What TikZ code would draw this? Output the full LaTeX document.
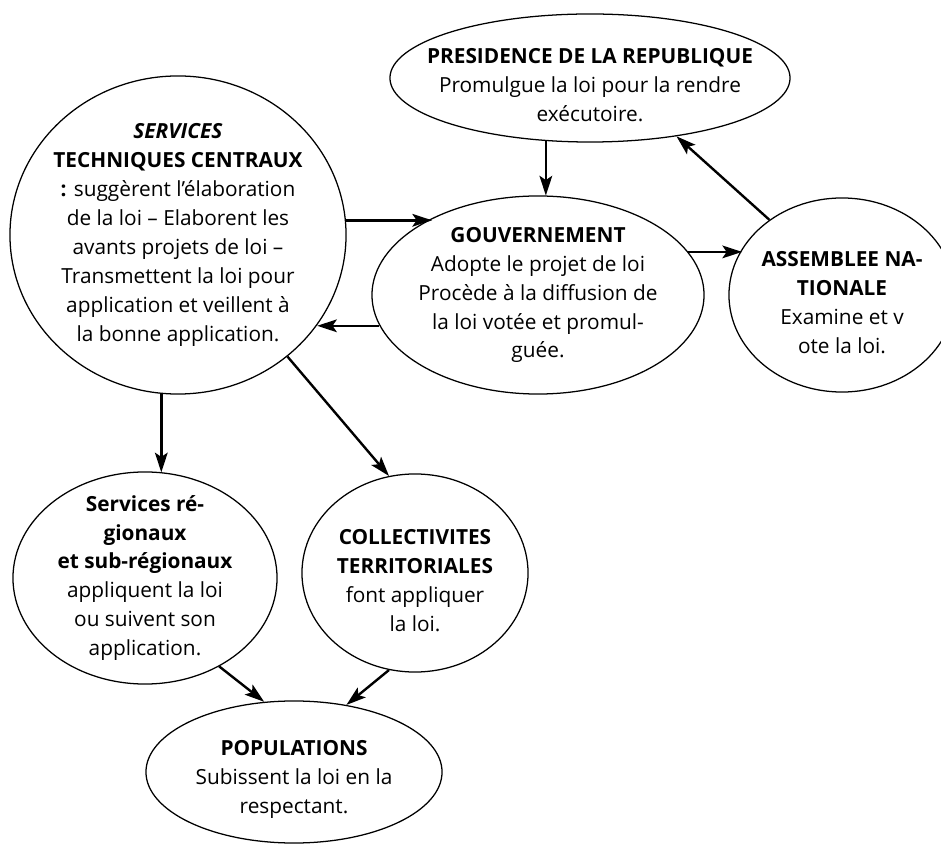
\documentclass[tikz,border=0pt]{standalone}
\usepackage{fontspec}
\setmainfont{Open Sans}
\usetikzlibrary{shapes.geometric,arrows.meta}
\tikzset{bulle/.style={ellipse, draw, line width=0.9pt, inner sep=-20pt, align=center, font=\fontsize{14.8}{20.6}\selectfont}}
\tikzset{fleche/.style={-{Stealth[length=14pt, width=9pt, inset=3pt]}, line width=1.7pt}}
\def\decal{\rule{0pt}{21pt}}

\begin{document}
\begin{tikzpicture}[x=0.025cm, y=-0.025cm]

  \useasboundingbox (0,0) rectangle (941,845);
  \clip (0,0) rectangle (941,845);
  \fill[white] (0,0) rectangle (941,845);

  \node[bulle, minimum width=10cm, minimum height=3.2cm] (pres) at (590,78)
    {\decal\textbf{PRESIDENCE DE LA REPUBLIQUE}\\Promulgue la loi pour la rendre\\exécutoire.};
  \node[bulle, minimum width=8.4cm, minimum height=7.95cm] (stc) at (178,235)
    {\textbf{\textit{SERVICES}}\\\textbf{TECHNIQUES CENTRAUX}\\\textbf{:} suggèrent l’élaboration\\de la loi – Elaborent les\\avants projets  de loi –\\Transmettent la loi pour\\application et veillent à\\la bonne application.};
  \node[bulle, minimum width=8.3cm, minimum height=4.95cm] (gov) at (538,295)
    {\textbf{GOUVERNEMENT}\\Adopte le projet de loi\\Procède à la diffusion de\\la loi votée et promul-\\guée.};
  \node[bulle, minimum width=5.65cm, minimum height=4.85cm] (an) at (842,295)
    {\decal\textbf{ASSEMBLEE NA-}\\\textbf{TIONALE}\\Examine et v\\ote la loi.};
  \node[bulle, minimum width=6.6cm, minimum height=5.3cm] (reg) at (145,578)
    {\textbf{Services ré-}\\\textbf{gionaux}\\\textbf{et sub-régionaux}\\appliquent la loi\\ou suivent son\\application.};
  \node[bulle, minimum width=5.65cm, minimum height=4.95cm] (col) at (415,573)
    {\decal\textbf{COLLECTIVITES}\\\textbf{TERRITORIALES}\\font appliquer\\la loi.};
  \node[bulle, minimum width=7.4cm, minimum height=3.55cm] (pop) at (294,772)
    {\decal\textbf{POPULATIONS}\\Subissent la loi en la\\respectant.};

  % fleches
  \foreach \source/\dest in {pres.235.5/pres.235.5 |- gov.84.8, gov.16.9/gov.16.9 -| an.155.8,
      an.134.6/pres.-34.6, stc.5.5/stc.5.5 -| gov.144.4, gov.191.1/gov.191.1 -| stc.-33.4,
      stc.264.6/stc.264.6 |- reg.80.3, stc.-48/col.105, reg.-50.5/pop.113.6, col.255.4/pop.52.4}
    \draw[fleche] (\source) -- (\dest);
\end{tikzpicture}
\end{document}
